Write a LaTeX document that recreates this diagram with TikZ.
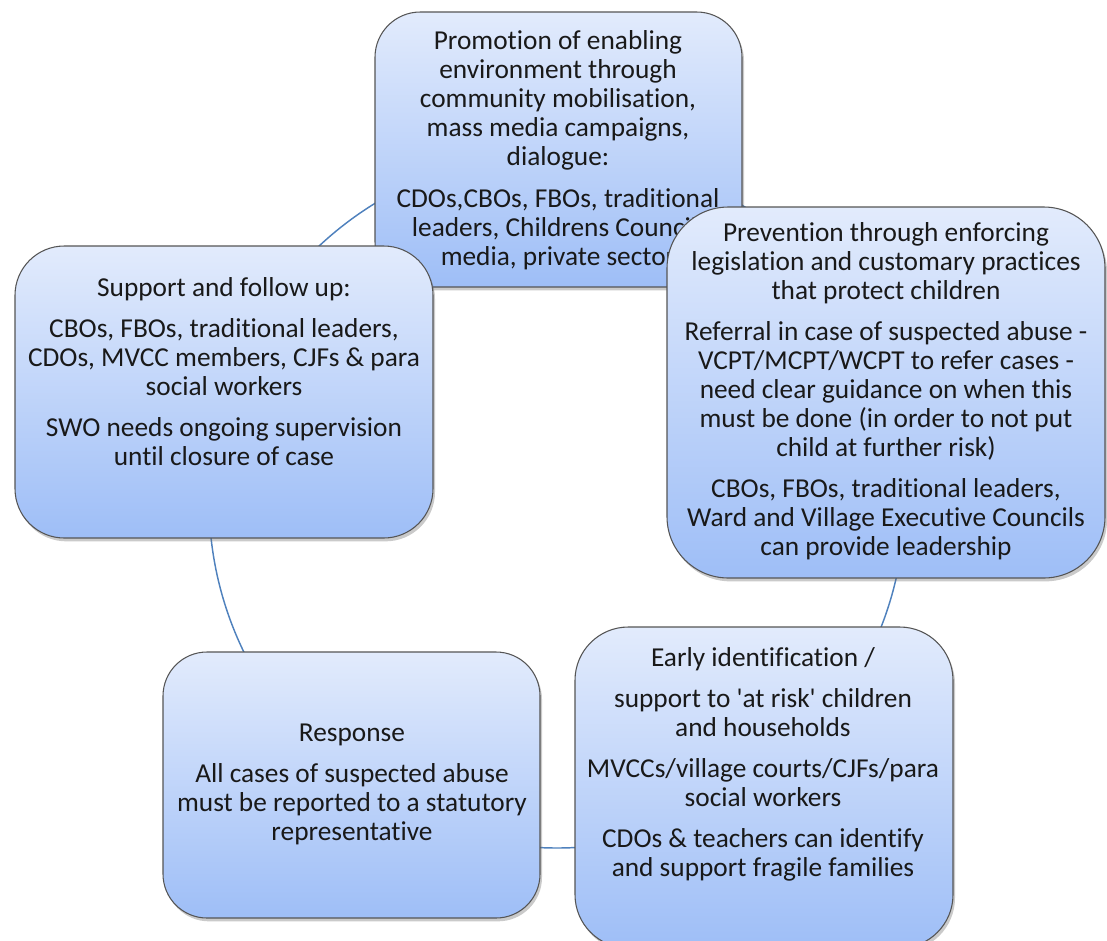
\documentclass[tikz,border=0pt]{standalone}
\usepackage{fontspec}
\setmainfont{Carlito}[Ligatures=NoCommon]
\usetikzlibrary{shadows,fit}
\definecolor{ringblue}{RGB}{79,129,189}
\definecolor{boxtop}{RGB}{226,235,252}
\definecolor{boxbottom}{RGB}{158,190,247}
\definecolor{boxline}{RGB}{85,85,85}
\begin{document}
\begin{tikzpicture}[x=0.75pt,y=-0.75pt,
  stage/.style={draw=boxline, line width=0.8pt, top color=boxtop, bottom color=boxbottom,
    inner sep=0pt, drop shadow={shadow xshift=1.5pt, shadow yshift=-2.5pt, opacity=0.35, fill=black!60}},
  blurb/.style={align=center, font=\fontsize{20.5}{21.75}\selectfont, text=black!90, inner sep=0pt},
  ring/.style={draw=ringblue, line width=1.1pt}]
\useasboundingbox (0,0) rectangle (1107,940);

% cycle ring behind the five stages
\coordinate (hub) at (557,500);
\draw[ring] (hub) circle[radius=261pt];

% promotion (top)
\node[stage, rounded corners=34pt, fit={(375,12) (742,287)}] (promo) {};
\node[blurb] (promotxt) at (558,150) {Promotion of enabling\\ environment through\\ community mobilisation,\\ mass media campaigns,\\ dialogue:\\[10pt]
CDOs,CBOs, FBOs, traditional\\ leaders, Childrens Council,\\ media, private sector};

% prevention (right)
\node[stage, rounded corners=46pt, fit={(667,207) (1105,578)}] (prevent) {};
\node[blurb] (preventtxt) at (886,391) {Prevention through enforcing\\ legislation and customary practices\\ that protect children\\[9pt]
Referral in case of suspected abuse -\\ VCPT/MCPT/WCPT to refer cases -\\ need clear guidance on when this\\ must be done (in order to not put\\ child at further risk)\\[9pt]
CBOs, FBOs, traditional leaders,\\ Ward and Village Executive Councils\\ can provide leadership};

% support and follow up (left)
\node[stage, rounded corners=37pt, fit={(15,246) (433,538)}] (support) {};
\node[blurb] (supporttxt) at (224,371.5) {Support and follow up:\\[9pt]
CBOs, FBOs, traditional leaders,\\ CDOs, MVCC members, CJFs \& para\\ social workers\\[9pt]
SWO needs ongoing supervision\\ until closure of case};

% response (bottom left)
\node[stage, rounded corners=33pt, fit={(163,652) (540,918)}] (response) {};
\node[blurb] (responsetxt) at (352,784.5) {Response\\[9pt]
All cases of suspected abuse\\ must be reported to a statutory\\ representative};

% early identification (bottom right)
\node[stage, rounded corners=40pt, fit={(575,627) (953,948)}] (early) {};
\node[blurb] (earlytxt) at (763,764.5) {Early identification /\\[9pt]
support to \textquotesingle at risk\textquotesingle{} children\\ and households\\[9pt]
MVCCs/village courts/CJFs/para\\ social workers\\[9pt]
CDOs \& teachers can identify\\ and support fragile families};
\end{tikzpicture}
\end{document}
